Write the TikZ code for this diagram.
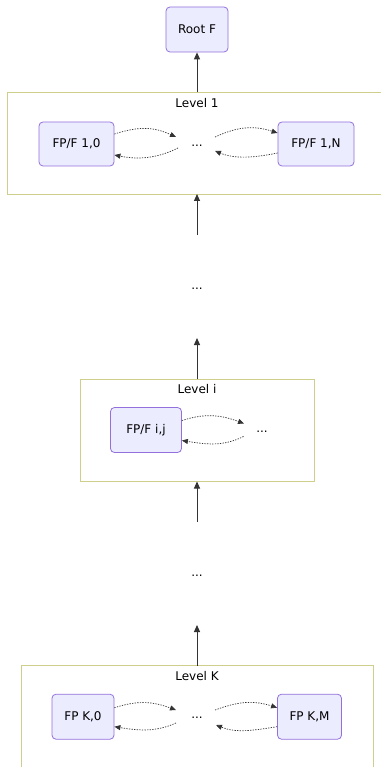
\documentclass[tikz,border=0pt]{standalone}
\usepackage{fontspec}
\setmainfont{DejaVu Sans}
\usetikzlibrary{arrows.meta}
\definecolor{nodefill}{HTML}{ECECFF}
\definecolor{nodeline}{HTML}{9370DB}
\definecolor{clusterline}{HTML}{CFCF8C}
\definecolor{arrowline}{HTML}{333333}
\definecolor{solidline}{HTML}{666666}
\tikzset{
  fpbox/.style={draw=nodeline, fill=nodefill, rounded corners=4pt, line width=0.8pt,
    minimum height=45pt, inner sep=0pt, font=\fontsize{12}{14}\selectfont},
  cluster/.style={draw=clusterline, line width=0.9pt},
  clusterlabel/.style={font=\fontsize{12}{14}\selectfont, inner sep=0pt},
  dots/.style={font=\fontsize{12}{14}\selectfont, inner sep=0pt},
  solidarrow/.style={draw=solidline, line width=1pt, -{Triangle[length=7pt,width=6pt]}, arrowline},
  dotarrow/.style={draw=arrowline, line width=0.7pt, dash pattern=on 1.3pt off 1.3pt,
    -{Triangle[length=6pt,width=5pt]}},
}
\begin{document}
\begin{tikzpicture}[x=1pt,y=-1pt]
\useasboundingbox (0,0) rectangle (381,767);
\fill[white] (0,0) rectangle (381,767);

% clusters
\draw[cluster] (381,92.5) -- (7.5,92.5) -- (7.5,194) -- (381,194);
\coordinate (L1top) at (197,92.5);
\coordinate (L1bot) at (197,194);
\node[clusterlabel] (L1lab) at (197,103) {Level 1};

\draw[cluster] (80,379) rectangle (314,481.5);
\coordinate (Litop) at (197,379);
\coordinate (Libot) at (197,481.5);
\node[clusterlabel] (Lilab) at (197,389) {Level i};

\draw[cluster] (21,767) -- (21,665.5) -- (373,665.5) -- (373,767);
\coordinate (LKtop) at (197,665.5);
\node[clusterlabel] (LKlab) at (197,676) {Level K};

% nodes
\node[fpbox, minimum width=62pt] (root) at (197,29.5) {Root F};
\node[fpbox, minimum width=75pt, minimum height=44pt] (a10) at (76.5,144) {FP/F 1,0};
\node[fpbox, minimum width=76pt, minimum height=44pt] (a1N) at (316,144) {FP/F 1,N};
\node[dots] (d1) at (197,146) {...};
\node[fpbox, minimum width=71pt] (aij) at (146,430) {FP/F i,j};
\node[dots] (di) at (262,432) {...};
\node[fpbox, minimum width=62pt] (aK0) at (83,716.7) {FP K,0};
\node[fpbox, minimum width=64pt] (aKM) at (309.5,716.7) {FP K,M};
\node[dots] (dK) at (197,718) {...};

\node[dots] (m1) at (197,289) {...};
\node[dots] (m2) at (197,576) {...};
\coordinate (m1t) at (197,235);
\coordinate (m1b) at (197,338);
\coordinate (m2t) at (197,521.5);
\coordinate (m2b) at (197,625);

% solid arrows
\draw[solidarrow] (L1top) -- (root.south);
\draw[solidarrow] (m1t) -- (L1bot);
\draw[solidarrow] (Litop) -- (m1b);
\draw[solidarrow] (m2t) -- (Libot);
\draw[solidarrow] (LKtop) -- (m2b);

% dotted arrows level 1
\draw[dotarrow] ([yshift=10pt]a10.east) .. controls ++(25,-8) and ++(-22,-10) .. ([xshift=-21pt,yshift=9pt]d1.center);
\draw[dotarrow] ([xshift=-19pt,yshift=-2pt]d1.center) .. controls ++(-20,10) and ++(25,5) .. ([yshift=-11pt]a10.east);
\draw[dotarrow] ([xshift=18pt,yshift=9pt]d1.center) .. controls ++(22,-10) and ++(-25,-8) .. ([yshift=11pt]a1N.west);
\draw[dotarrow] ([yshift=-9pt]a1N.west) .. controls ++(-25,5) and ++(20,8) .. ([xshift=18pt,yshift=-5pt]d1.center);

% dotted arrows level i
\draw[dotarrow] ([yshift=9.5pt]aij.east) .. controls ++(25,-8) and ++(-22,-8) .. ([xshift=-18pt,yshift=8.5pt]di.center);
\draw[dotarrow] ([xshift=-18.5pt,yshift=-4.5pt]di.center) .. controls ++(-20,10) and ++(25,4) .. ([yshift=-10.5pt]aij.east);

% dotted arrows level K
\draw[dotarrow] ([yshift=9pt]aK0.east) .. controls ++(25,-8) and ++(-22,-8) .. ([xshift=-21pt,yshift=8pt]dK.center);
\draw[dotarrow] ([xshift=-21pt,yshift=-5pt]dK.center) .. controls ++(-20,9) and ++(25,4) .. ([yshift=-10pt]aK0.east);
\draw[dotarrow] ([xshift=18pt,yshift=8pt]dK.center) .. controls ++(22,-8) and ++(-25,-8) .. ([yshift=9pt]aKM.west);
\draw[dotarrow] ([yshift=-10pt]aKM.west) .. controls ++(-25,4) and ++(20,8) .. ([xshift=19pt,yshift=-7pt]dK.center);
\end{tikzpicture}
\end{document}
